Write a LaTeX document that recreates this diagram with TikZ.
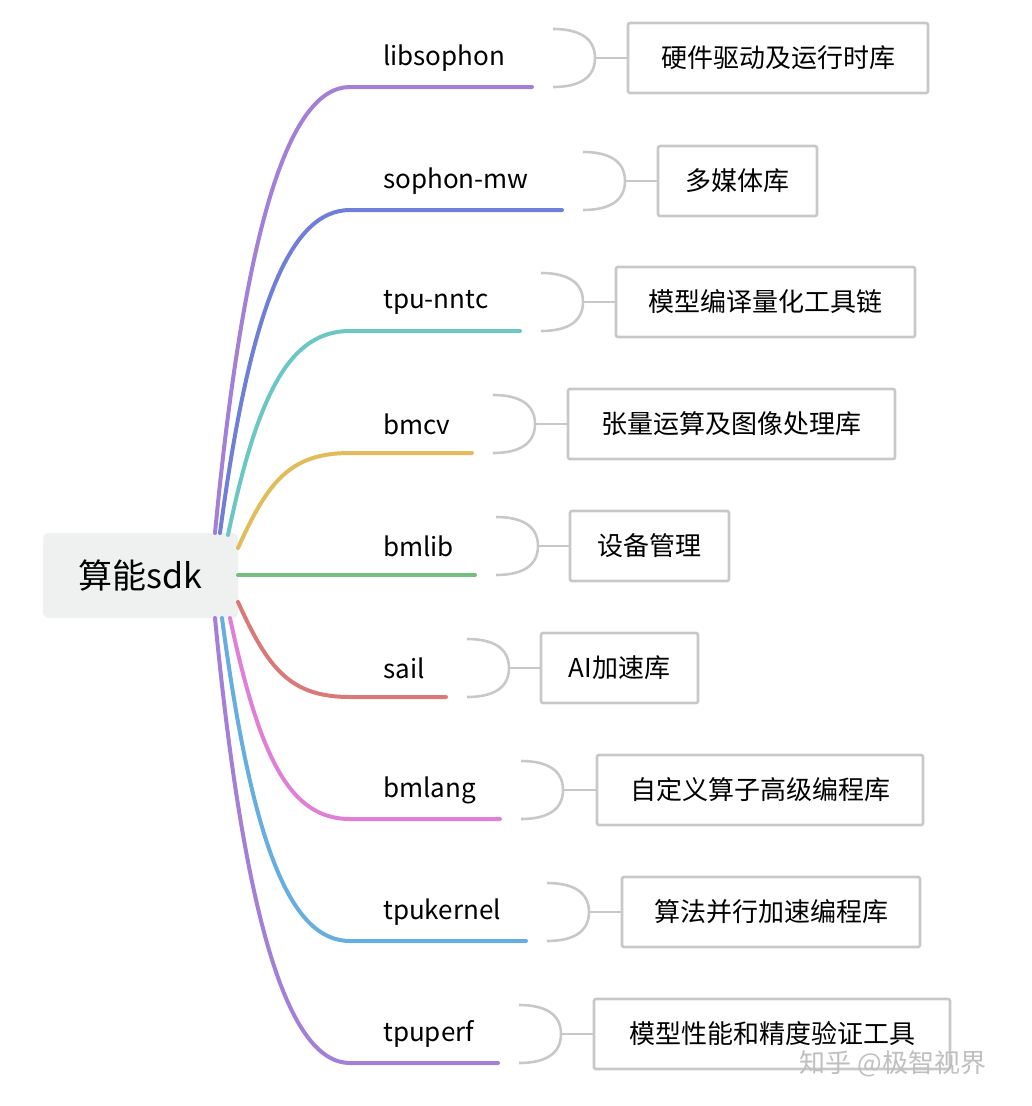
\documentclass[tikz,border=0pt]{standalone}
\usepackage{fontspec}
\setmainfont{Noto Sans CJK SC}
\begin{document}
\begin{tikzpicture}[x=1pt,y=-1pt]
  \tikzset{
    rootbox/.style={fill=rootgray, rounded corners=6pt, minimum width=195pt, minimum height=85pt, inner sep=0pt, font=\fontsize{34}{34}\selectfont},
    leafbox/.style={draw=linegray, line width=2.6pt, rounded corners=2pt, inner sep=0pt, minimum height=70pt, font=\fontsize{26}{26}\selectfont},
    branchtext/.style={anchor=west, inner sep=0pt, font=\fontsize{26}{26}\selectfont},
    bracket/.style={draw=linegray, line width=2.6pt}
  }
  \definecolor{rootgray}{HTML}{EEF1EF}
  \definecolor{linegray}{HTML}{C8C8C8}
  \definecolor{cLib}{HTML}{A47FD8}
  \definecolor{cMw}{HTML}{6F7FD8}
  \definecolor{cNntc}{HTML}{6CC6C4}
  \definecolor{cBmcv}{HTML}{E0BC5A}
  \definecolor{cBmlib}{HTML}{72BF7E}
  \definecolor{cSail}{HTML}{DA7A78}
  \definecolor{cBmlang}{HTML}{E07FD6}
  \definecolor{cKernel}{HTML}{66AEE0}
  \definecolor{cPerf}{HTML}{A47FD8}
  \useasboundingbox (0,0) rectangle (1032,1106);

  \node[rootbox] (root) at (140.5,575.5) {算能sdk};

  % branch: name/text y/line end/box left/box right/start point/colour/label
  \foreach \nm/\ty/\le/\bl/\br/\sx/\sy/\col/\lab in {
      lib/58/532/628/928/215/533/cLib/libsophon,
      mw/181/562/658/817/220/533/cMw/sophon-mw,
      nntc/302/520/616/915/228/535/cNntc/tpu-nntc,
      bmcv/424/472/568/895/238/548/cBmcv/bmcv,
      bmlib/546/475/570/729/238/575/cBmlib/bmlib,
      sail/668/446/541/698/238/602/cSail/sail,
      bmlang/790/500/597/923/230/618/cBmlang/bmlang,
      kernel/912/526/622/920/222/618/cKernel/tpukernel,
      perf/1034/498/594/950/215/618/cPerf/tpuperf} {
    \coordinate (s_\nm) at (\sx,\sy);
    \coordinate (e_\nm) at (350,\ty+29);
    \coordinate (t_\nm) at (\le,\ty+29);
    \node[branchtext] (l_\nm) at (383,\ty) {\lab};
    \draw[\col, line width=4pt, line cap=round] (s_\nm) .. controls ({\sx+30},{\sy+0.7*(\ty+29-\sy)}) and (290,\ty+29) .. (e_\nm) -- (t_\nm);
    \coordinate (ba_\nm) at (\le+21,\ty-29);
    \coordinate (bb_\nm) at (\le+21,\ty+29);
    \coordinate (bm_\nm) at (\le+63,\ty);
    \node[leafbox, minimum width={\br-\bl}] (b_\nm) at ({(\bl+\br)/2},\ty) {};
    \draw[bracket] (ba_\nm) .. controls (\le+47,\ty-29) and (\le+63,\ty-20) .. (bm_\nm)
      .. controls (\le+63,\ty+20) and (\le+47,\ty+29) .. (bb_\nm);
    \draw[bracket] (bm_\nm) -- (b_\nm.west);
  }
  \node[font=\fontsize{26}{26}\selectfont] at (b_lib) {硬件驱动及运行时库};
  \node[font=\fontsize{26}{26}\selectfont] at (b_mw) {多媒体库};
  \node[font=\fontsize{26}{26}\selectfont] at (b_nntc) {模型编译量化工具链};
  \node[font=\fontsize{26}{26}\selectfont] at (b_bmcv) {张量运算及图像处理库};
  \node[font=\fontsize{26}{26}\selectfont] at (b_bmlib) {设备管理};
  \node[font=\fontsize{26}{26}\selectfont] at (b_sail) {AI加速库};
  \node[font=\fontsize{26}{26}\selectfont] at (b_bmlang) {自定义算子高级编程库};
  \node[font=\fontsize{26}{26}\selectfont] at (b_kernel) {算法并行加速编程库};
  \node[font=\fontsize{26}{26}\selectfont] at (b_perf) {模型性能和精度验证工具};

  \node[text=white!75!black, font=\fontsize{26}{26}\selectfont] (mark) at (893,1064) {知乎 @极智视界};
\end{tikzpicture}
\end{document}
